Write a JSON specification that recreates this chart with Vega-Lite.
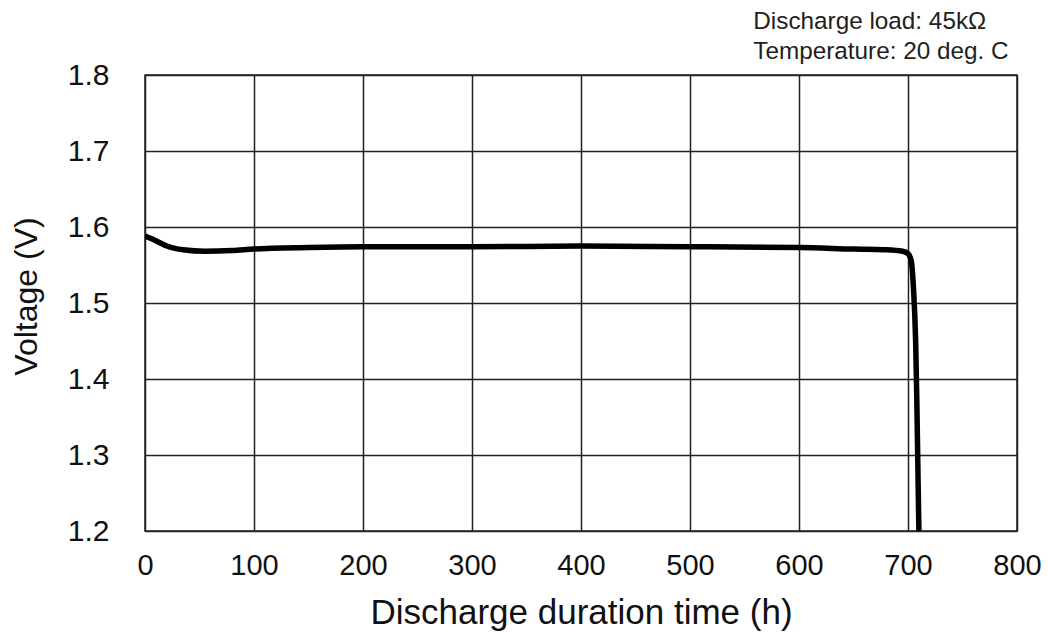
{
  "$schema": "https://vega.github.io/schema/vega-lite/v6.json",
  "width": 872,
  "height": 456,
  "autosize": "none",
  "padding": {"left": 145, "top": 75, "right": 31, "bottom": 101},
  "background": "white",
  "config": {
    "view": {"stroke": "#222", "strokeWidth": 1.5},
    "font": "Liberation Sans"
  },
  "title": {
    "text": ["Discharge load: 45kΩ", "Temperature: 20 deg. C"],
    "anchor": "start",
    "align": "left",
    "dx": 743,
    "offset": -4,
    "fontSize": 24.3,
    "fontWeight": "normal",
    "font": "Liberation Sans",
    "color": "#231f20",
    "lineHeight": 30
  },
  "data": {
    "values": [
      {"t": 0, "v": 1.588},
      {"t": 10, "v": 1.582},
      {"t": 20, "v": 1.575},
      {"t": 35, "v": 1.570},
      {"t": 55, "v": 1.568},
      {"t": 80, "v": 1.569},
      {"t": 100, "v": 1.571},
      {"t": 150, "v": 1.573},
      {"t": 200, "v": 1.574},
      {"t": 300, "v": 1.574},
      {"t": 400, "v": 1.575},
      {"t": 500, "v": 1.574},
      {"t": 600, "v": 1.573},
      {"t": 650, "v": 1.571},
      {"t": 680, "v": 1.570},
      {"t": 695, "v": 1.568},
      {"t": 700, "v": 1.565},
      {"t": 703, "v": 1.555},
      {"t": 705, "v": 1.520},
      {"t": 707, "v": 1.450},
      {"t": 708, "v": 1.380},
      {"t": 709, "v": 1.290},
      {"t": 710, "v": 1.200},
      {"t": 711, "v": 1.150}
    ]
  },
  "mark": {"type": "line", "color": "black", "strokeWidth": 5.5, "clip": true, "interpolate": "monotone"},
  "encoding": {
    "x": {
      "field": "t", "type": "quantitative",
      "scale": {"domain": [0, 800], "nice": false, "zero": false},
      "axis": {
        "values": [0, 100, 200, 300, 400, 500, 600, 700, 800],
        "title": "Discharge duration time (h)",
        "titleFontSize": 35, "titleFontWeight": "normal", "titleColor": "#111",
        "titlePadding": 15,
        "labelFontSize": 29, "labelColor": "#111", "labelPadding": 20,
        "labelFlush": false,
        "ticks": false, "domain": false,
        "grid": true, "gridColor": "#222", "gridWidth": 1.5, "gridOpacity": 1
      }
    },
    "y": {
      "field": "v", "type": "quantitative",
      "scale": {"domain": [1.2, 1.8], "nice": false, "zero": false},
      "axis": {
        "values": [1.2, 1.3, 1.4, 1.5, 1.6, 1.7, 1.8],
        "format": ".1f",
        "title": "Voltage (V)",
        "titleFontSize": 32, "titleFontWeight": "normal", "titleColor": "#111",
        "titlePadding": 24,
        "titleY": 221,
        "labelFontSize": 30, "labelColor": "#111", "labelPadding": 36,
        "ticks": false, "domain": false,
        "grid": true, "gridColor": "#222", "gridWidth": 1.5, "gridOpacity": 1
      }
    }
  }
}
